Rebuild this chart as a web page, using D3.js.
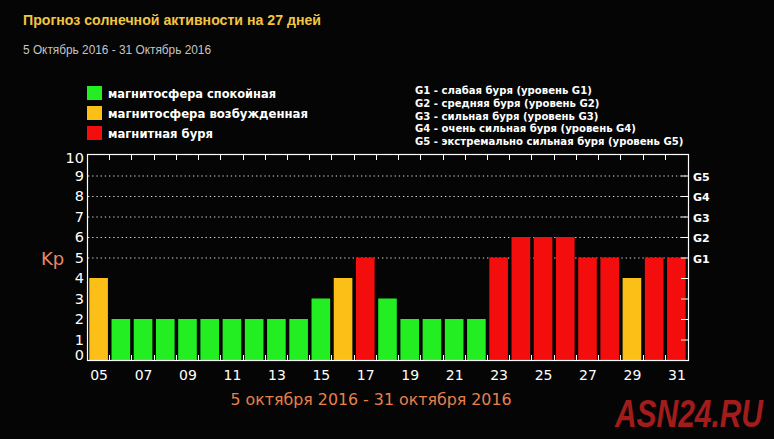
<!DOCTYPE html>
<html><head><meta charset="utf-8">
<script src="https://cdn.jsdelivr.net/npm/d3@7"></script>
<style>
html,body{margin:0;padding:0;background:#050505;}
svg{display:block;}
</style></head>
<body>
<svg id="c" width="774" height="439"></svg>
<script>
const days = ["05","06","07","08","09","10","11","12","13","14","15","16","17","18","19","20","21","22","23","24","25","26","27","28","29","30","31"];
const kp =   [4,2,2,2,2,2,2,2,2,2,3,4,5,3,2,2,2,2,5,6,6,6,5,5,4,5,5];
const dayTickLabels = ["05","07","09","11","13","15","17","19","21","23","25","27","29","31"];
const yTicks = [0,1,2,3,4,5,6,7,8,9,10];
const gLevels = [5,6,7,8,9];
const gLabels = ["G1","G2","G3","G4","G5"];
const gDescriptions = [
  "G1 - слабая буря (уровень G1)",
  "G2 - средняя буря (уровень G2)",
  "G3 - сильная буря (уровень G3)",
  "G4 - очень сильная буря (уровень G4)",
  "G5 - экстремально сильная буря (уровень G5)"
];
const legendLabels = ["магнитосфера спокойная","магнитосфера возбужденная","магнитная буря"];
const legendColors = ["#22ee22","#fbbf18","#f40d0d"];
const title = "Прогноз солнечной активности на 27 дней";
const subtitle = "5 Октябрь 2016 - 31 Октябрь 2016";
const xTitle = "5 октября 2016 - 31 октября 2016";
const watermark = "ASN24.RU";

const svg = d3.select("#c");
const L = 88, R = 688, T = 155, B = 360;
const x = d3.scaleBand().domain(days).range([L, R]);
const y = d3.scaleLinear().domain([0, 10]).range([B, T]);
const colorOf = v => v <= 3 ? legendColors[0] : (v === 4 ? legendColors[1] : legendColors[2]);

function fitWidth(sel, w){
  const n = sel.node().getComputedTextLength();
  if (n > w) sel.attr("textLength", w).attr("lengthAdjust","spacingAndGlyphs");
}

svg.append("rect").attr("width",774).attr("height",439).attr("fill","#050505");

// titles
fitWidth(svg.append("text").attr("x",23).attr("y",25).text(title)
  .attr("fill","#f2c640").attr("font-family","Liberation Sans, Arial, sans-serif")
  .attr("font-weight","bold").attr("font-size",14.5), 298);
fitWidth(svg.append("text").attr("x",23).attr("y",54).text(subtitle)
  .attr("fill","#c4c4c4").attr("font-family","Liberation Sans, Arial, sans-serif")
  .attr("font-size",12.5), 188);

// legend
const legendW = [168, 200, 105];
legendLabels.forEach((t,i)=>{
  svg.append("rect").attr("x",87).attr("y",86+20*i).attr("width",15).attr("height",14).attr("fill",legendColors[i]);
  fitWidth(svg.append("text").attr("x",108).attr("y",98+20*i).text(t)
    .attr("fill","#fff").attr("font-family","DejaVu Sans, sans-serif").attr("font-size",12.5)
    .attr("font-weight","bold"), legendW[i]);
});
gDescriptions.forEach((t,i)=>{
  svg.append("text").attr("x",415).attr("y",94+12.8*i).text(t)
    .attr("fill","#fff").attr("font-family","DejaVu Sans, sans-serif").attr("font-size",10.1)
    .attr("font-weight","bold");
});

// gridlines
svg.selectAll(".grid").data(gLevels).enter().append("line")
  .attr("x1",L).attr("x2",R).attr("y1",d=>y(d)+0.5).attr("y2",d=>y(d)+0.5)
  .attr("stroke","#ddd").attr("stroke-width",1).attr("stroke-dasharray","1.3,2.9");

// bars
svg.selectAll(".bar").data(days.map((d,i)=>({d,v:kp[i]}))).enter().append("rect")
  .attr("x",d=>x(d.d)+1.3).attr("width",x.bandwidth()-3.6)
  .attr("y",d=>y(d.v)).attr("height",d=>B-y(d.v))
  .attr("fill",d=>colorOf(d.v));

// frame
svg.append("rect").attr("x",L-0.5).attr("y",T-0.5).attr("width",R-L+1).attr("height",B-T+1)
  .attr("fill","none").attr("stroke","#fff").attr("stroke-width",1.2);

// top & bottom ticks at band boundaries
const bounds = days.slice(1);
svg.selectAll(".tt").data(bounds).enter().append("line")
  .attr("x1",d=>Math.round(x(d))-0.5).attr("x2",d=>Math.round(x(d))-0.5)
  .attr("y1",T).attr("y2",T+5).attr("stroke","#fff");
svg.selectAll(".bt").data(bounds).enter().append("line")
  .attr("x1",d=>Math.round(x(d))-0.5).attr("x2",d=>Math.round(x(d))-0.5)
  .attr("y1",B).attr("y2",B-5).attr("stroke","#fff");
// right ticks
svg.selectAll(".rt").data(yTicks.slice(1,10)).enter().append("line")
  .attr("x1",R-7).attr("x2",R).attr("y1",d=>y(d)+0.5).attr("y2",d=>y(d)+0.5).attr("stroke","#fff");

// y labels
svg.selectAll(".yl").data(yTicks).enter().append("text")
  .attr("x",84).attr("y",d=>y(d)+(d===0?-0.5:d===10?8:5)).attr("text-anchor","end")
  .text(d=>d).attr("fill","#fff").attr("font-family","DejaVu Sans, sans-serif").attr("font-size",14.5);
// G labels
svg.selectAll(".gl").data(gLevels).enter().append("text")
  .attr("x",693).attr("y",(d)=>y(d)+5).text((d,i)=>gLabels[i])
  .attr("fill","#fff").attr("font-family","DejaVu Sans, sans-serif").attr("font-weight","bold").attr("font-size",11);
// Kp
svg.append("text").attr("x",41).attr("y",265).text("Kp")
  .attr("fill","#e8876a").attr("font-family","DejaVu Sans, sans-serif").attr("font-size",18);

// x labels
svg.selectAll(".xl").data(dayTickLabels).enter().append("text")
  .attr("x",d=>x(d)+x.bandwidth()/2).attr("y",380).attr("text-anchor","middle")
  .text(d=>d).attr("fill","#fff").attr("font-family","DejaVu Sans, sans-serif").attr("font-size",14);

// x title
fitWidth(svg.append("text").attr("x",371).attr("y",405).attr("text-anchor","middle").text(xTitle)
  .attr("fill","#e8804c").attr("font-family","DejaVu Sans, sans-serif").attr("font-size",16), 281);

// watermark (condensed via horizontal scale)
const wm = svg.append("text").attr("x",0).attr("y",0).text(watermark)
  .attr("fill","#a21c1c").attr("font-family","Liberation Sans Narrow, Liberation Sans, sans-serif")
  .attr("font-weight","bold").attr("font-style","italic").attr("font-size",39);
const wmW = wm.node().getComputedTextLength();
wm.attr("transform", `translate(615,427) scale(${148/wmW},1)`);
</script>
</body></html>
